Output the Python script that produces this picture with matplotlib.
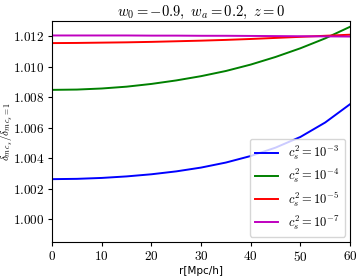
import matplotlib
matplotlib.use("Agg")
import matplotlib.pyplot as plt
from matplotlib.ticker import FuncFormatter

plt.rcParams["mathtext.fontset"] = "cm"

r = [0, 5, 10, 15, 20, 25, 30, 35, 40, 45, 50, 55, 60]
ratio_cs3 = [1.00262, 1.00264, 1.00270, 1.00280, 1.00294, 1.00313, 1.00338,
             1.00371, 1.00414, 1.00469, 1.00539, 1.00634, 1.00754]
ratio_cs4 = [1.00848, 1.00850, 1.00857, 1.00869, 1.00887, 1.00910, 1.00938,
             1.00972, 1.01014, 1.01064, 1.01121, 1.01186, 1.01262]
ratio_cs5 = [1.01155, 1.01156, 1.01158, 1.01160, 1.01163, 1.01167, 1.01171,
             1.01176, 1.01182, 1.01189, 1.01196, 1.01203, 1.01210]
ratio_cs7 = [1.01205, 1.01205, 1.01205, 1.01205, 1.01204, 1.01204, 1.01203,
             1.01203, 1.01202, 1.01201, 1.01200, 1.01199, 1.01198]

series = [
    (ratio_cs3, "b", r"$c_s^2=10^{-3}$"),
    (ratio_cs4, "g", r"$c_s^2=10^{-4}$"),
    (ratio_cs5, "r", r"$c_s^2=10^{-5}$"),
    (ratio_cs7, "m", r"$c_s^2=10^{-7}$"),
]

fig = plt.figure(figsize=(3.62, 2.8), dpi=100)
ax = fig.add_axes([0.144, 0.136, 0.823, 0.789])

for vals, col, lab in series:
    ax.plot(r, vals, color=col, lw=1.4, label=lab)

ax.set_xlim(0, 60)
ax.set_ylim(0.9985, 1.013)
ax.set_yticks([1.000, 1.002, 1.004, 1.006, 1.008, 1.010, 1.012])
ax.set_xticks([0, 10, 20, 30, 40, 50, 60])
ax.xaxis.set_major_formatter(FuncFormatter(lambda v, p: f"${v:.0f}$"))
ax.yaxis.set_major_formatter(FuncFormatter(lambda v, p: f"${v:.3f}$"))
ax.tick_params(labelsize=9.5, length=3, pad=2.5)

ax.set_title(r"$w_0=-0.9,\ w_a=0.2,\ z=0$", fontsize=10.5, pad=4)
ax.set_xlabel("r[Mpc/h]", fontsize=7.5, labelpad=2)
ax.set_ylabel(r"$\delta_{m\,c_s}/\delta_{m\,c_s=1}$", fontsize=8)
ax.yaxis.set_label_coords(-0.123, 0.5)
ax.legend(loc="lower right", fontsize=9, handlelength=1.9,
          labelspacing=0.38, borderpad=0.4, borderaxespad=0.4)

fig.savefig("out.png", dpi=100)
